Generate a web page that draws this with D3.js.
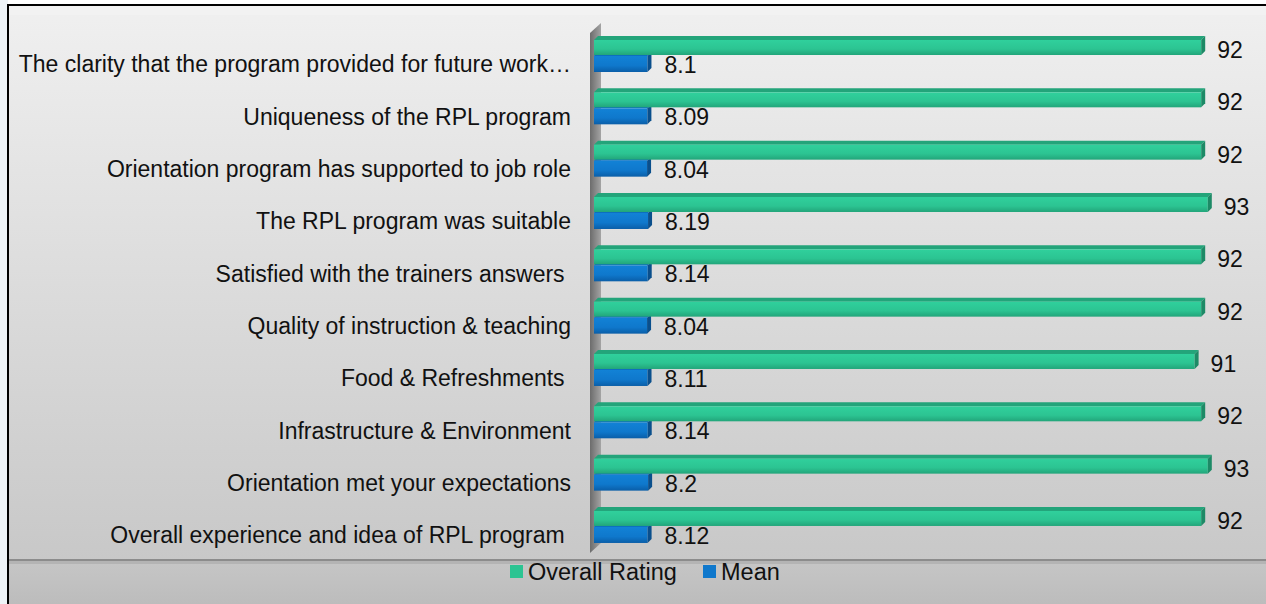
<!DOCTYPE html>
<html>
<head>
<meta charset="utf-8">
<script src="https://cdn.jsdelivr.net/npm/d3@7"></script>
<style>
  html, body { margin: 0; padding: 0; background: #fff; }
  svg { display: block; font-family: "Liberation Sans", Arial, sans-serif; }
</style>
</head>
<body>
<div id="chart"></div>
<script>
var categories = [
    "The clarity that the program provided for future work\u2026",
    "Uniqueness of the RPL program",
    "Orientation program has supported to job role",
    "The RPL program was suitable",
    "Satisfied with the trainers answers ",
    "Quality of instruction & teaching",
    "Food & Refreshments ",
    "Infrastructure & Environment",
    "Orientation met your expectations",
    "Overall experience and idea of RPL program "
]
var overallRating = [92, 92, 92, 93, 92, 92, 91, 92, 93, 92]
var meanValues = [8.1, 8.09, 8.04, 8.19, 8.14, 8.04, 8.11, 8.14, 8.2, 8.12]
var seriesNames = ["Overall Rating", "Mean"]

var width = 1266, height = 604;
var depth = 4;

const svg = d3.select("#chart")
    .append("svg")
    .attr("width", width)
    .attr("height", height)

const defs = svg.append("defs")

// background gradients
var bg = defs.append("linearGradient").attr("id", "bg").attr("x1", 0).attr("y1", 0).attr("x2", 0).attr("y2", 1)
bg.append("stop").attr("offset", "0%").attr("stop-color", "#f0f0f0")
bg.append("stop").attr("offset", "100%").attr("stop-color", "#c8c8c8")

var floorG = defs.append("linearGradient").attr("id", "floorG").attr("x1", 0).attr("y1", 0).attr("x2", 0).attr("y2", 1)
floorG.append("stop").attr("offset", "0%").attr("stop-color", "#c6c6c6")
floorG.append("stop").attr("offset", "100%").attr("stop-color", "#bcbcbc")

var wallG = defs.append("linearGradient").attr("id", "wallG").attr("x1", 0).attr("y1", 0).attr("x2", 1).attr("y2", 0)
wallG.append("stop").attr("offset", "0%").attr("stop-color", "#6c6c6c")
wallG.append("stop").attr("offset", "100%").attr("stop-color", "#a4a4a4")

var greenFace = defs.append("linearGradient").attr("id", "greenFace").attr("x1", 0).attr("y1", 0).attr("x2", 0).attr("y2", 1)
greenFace.append("stop").attr("offset", "0%").attr("stop-color", "#30d09c")
greenFace.append("stop").attr("offset", "60%").attr("stop-color", "#2cc492")
greenFace.append("stop").attr("offset", "100%").attr("stop-color", "#22a57a")

var blueFace = defs.append("linearGradient").attr("id", "blueFace").attr("x1", 0).attr("y1", 0).attr("x2", 0).attr("y2", 1)
blueFace.append("stop").attr("offset", "0%").attr("stop-color", "#1282d6")
blueFace.append("stop").attr("offset", "60%").attr("stop-color", "#0f78cc")
blueFace.append("stop").attr("offset", "100%").attr("stop-color", "#0a5ea8")

// page & frame
svg.append("rect").attr("x", 0).attr("y", 0).attr("width", 8).attr("height", height).attr("fill", "#eef3f7")
svg.append("rect").attr("x", 8).attr("y", 5).attr("width", width - 8).attr("height", 556).attr("fill", "url(#bg)")
svg.append("rect").attr("x", 8).attr("y", 561).attr("width", width - 8).attr("height", 43).attr("fill", "url(#floorG)")
svg.append("rect").attr("x", 9).attr("y", 6).attr("width", width - 9).attr("height", 9).attr("fill", "#f4f4f4").attr("opacity", 0.6)

// floor line with a soft shadow
svg.append("rect").attr("x", 9).attr("y", 559).attr("width", width - 9).attr("height", 2).attr("fill", "#8c8c8c")
svg.append("rect").attr("x", 9).attr("y", 561).attr("width", width - 9).attr("height", 3).attr("fill", "#a8a8a8").attr("opacity", 0.6)

svg.append("line").attr("x1", 8).attr("x2", 8).attr("y1", 4).attr("y2", height).attr("stroke", "#000").attr("stroke-width", 2)
svg.append("line").attr("x1", 7).attr("x2", width).attr("y1", 5).attr("y2", 5).attr("stroke", "#000").attr("stroke-width", 2)

// scales
var x = d3.scaleLinear().domain([0, 100]).range([594, 1254])
var y = d3.scaleBand().domain(categories).range([30, 30 + 52.33 * categories.length]).paddingInner(0)

// side wall
svg.append("polygon")
    .attr("points", [[590, 33], [601, 23], [601, 543], [590, 553]].map(p => p.join(",")).join(" "))
    .attr("fill", "url(#wallG)")

var rows = categories.map((c, i) => ({ cat: c, rating: overallRating[i], mean: meanValues[i] }))

function drawBar(g, x0, x1, top, h, face, topFill, sideFill) {
    g.append("polygon")
        .attr("points", [[x0, top], [x1, top], [x1 + depth, top - depth], [x0 + depth, top - depth]].map(p => p.join(",")).join(" "))
        .attr("fill", topFill)
    g.append("rect")
        .attr("x", x0).attr("y", top)
        .attr("width", x1 - x0).attr("height", h)
        .attr("fill", face)
    g.append("polygon")
        .attr("points", [[x1, top], [x1 + depth, top - depth], [x1 + depth, top + h - depth], [x1, top + h]].map(p => p.join(",")).join(" "))
        .attr("fill", sideFill)
}

var barsG = svg.append("g")
rows.forEach(function (d) {
    var b = y(d.cat)
    var g = barsG.append("g")
    // mean (blue) first, rating (green) drawn on top of it
    drawBar(g, x(0), x(d.mean), b + 26, 16, "url(#blueFace)", "#0d6fbf", "#0a4f8c")
    drawBar(g, x(0), x(d.rating), b + 10, 15, "url(#greenFace)", "#23a47a", "#1d8a66")
})

// value labels
barsG.selectAll(".lblRating")
    .data(rows)
    .enter()
    .append("text")
    .attr("x", d => x(d.rating) + depth + 12)
    .attr("y", d => y(d.cat) + 20)
    .attr("dy", "0.35em")
    .style("font-size", "23px")
    .attr("fill", "#111")
    .text(d => d.rating)

barsG.selectAll(".lblMean")
    .data(rows)
    .enter()
    .append("text")
    .attr("x", d => x(d.mean) + depth + 13)
    .attr("y", d => y(d.cat) + 35)
    .attr("dy", "0.35em")
    .style("font-size", "23px")
    .attr("fill", "#111")
    .text(d => d.mean)

// category axis
var axisG = svg.append("g")
    .attr("transform", "translate(571," + (35 - y.bandwidth() / 2) + ")")
    .call(d3.axisLeft(y).tickSize(0).tickPadding(0))
axisG.select(".domain").remove()
axisG.selectAll("text")
    .style("font-size", "23px")
    .style("font-family", "'Liberation Sans', Arial, sans-serif")
    .style("white-space", "pre")
    .attr("fill", "#111")

// legend
var legendColors = ["#2cc492", "#0f78cc"]
var legendX = [510, 703]
var legend = svg.append("g")
seriesNames.forEach(function (name, i) {
    legend.append("rect")
        .attr("x", legendX[i]).attr("y", 565)
        .attr("width", 13).attr("height", 13)
        .attr("fill", legendColors[i])
    legend.append("text")
        .attr("x", legendX[i] + 18)
        .attr("y", 571.5)
        .attr("dy", "0.35em")
        .style("font-size", "23.5px")
        .attr("fill", "#111")
        .text(name)
})
</script>
</body>
</html>
